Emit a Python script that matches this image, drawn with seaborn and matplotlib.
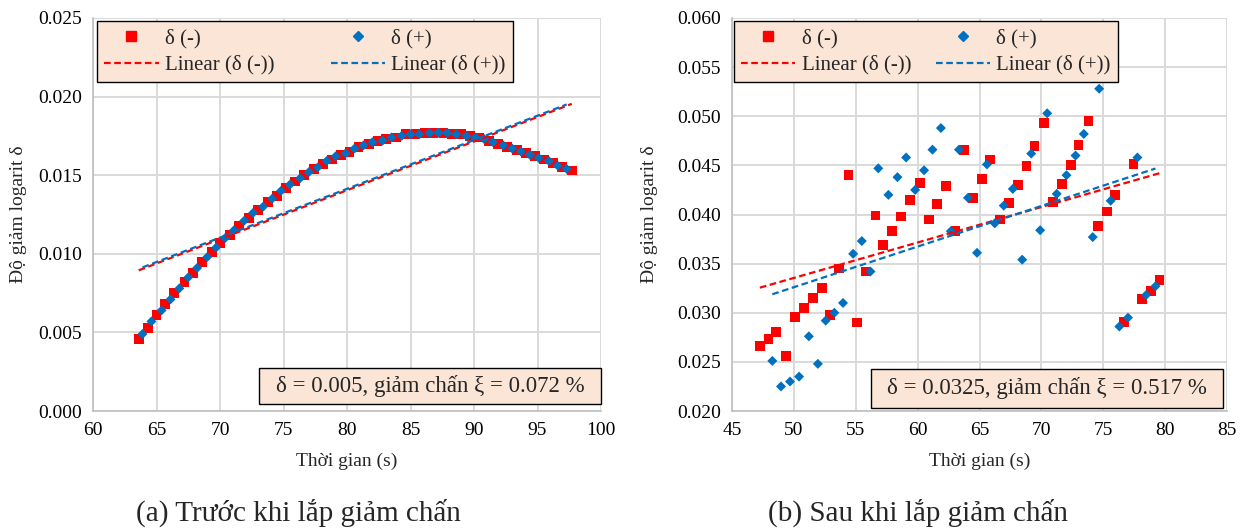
import numpy as np
import pandas as pd
import matplotlib
matplotlib.use("Agg")
import matplotlib.pyplot as plt
import seaborn as sns
from matplotlib.lines import Line2D
from matplotlib.patches import Rectangle

# ---- (a) before damper: values ----
a_minus_t = [63.6, 64.3, 65.0, 65.7, 66.4, 67.2, 67.9, 68.6, 69.4, 70.0, 70.8, 71.5,
             72.3, 73.0, 73.8, 74.5, 75.2, 75.9, 76.6, 77.4, 78.1, 78.8, 79.5, 80.2,
             80.9, 81.7, 82.4, 83.1, 83.9, 84.6, 85.4, 86.1, 86.8, 87.6, 88.3, 89.0,
             89.7, 90.4, 91.2, 91.9, 92.6, 93.4, 94.1, 94.8, 95.5, 96.2, 96.9, 97.7]
a_minus_d = [0.0046, 0.0053, 0.0061, 0.0068, 0.0075, 0.0082, 0.0088, 0.0095, 0.0101,
             0.0107, 0.0112, 0.0118, 0.0123, 0.0128, 0.0133, 0.0137, 0.0142, 0.0146,
             0.0150, 0.0154, 0.0157, 0.0160, 0.0163, 0.0165, 0.0168, 0.0170, 0.0172,
             0.0173, 0.0174, 0.0176, 0.0176, 0.0177, 0.0177, 0.0177, 0.0176, 0.0176,
             0.0175, 0.0174, 0.0172, 0.0170, 0.0168, 0.0166, 0.0164, 0.0162, 0.0160,
             0.0158, 0.0155, 0.0153]
a_plus_t = [63.9, 64.6, 65.4, 66.1, 66.8, 67.5, 68.2, 69.0, 69.7, 70.4, 71.1, 71.9,
            72.6, 73.4, 74.1, 74.8, 75.5, 76.3, 77.0, 77.7, 78.4, 79.1, 79.9, 80.6,
            81.3, 82.0, 82.8, 83.5, 84.3, 85.0, 85.7, 86.5, 87.2, 87.9, 88.6, 89.4,
            90.1, 90.8, 91.5, 92.3, 93.0, 93.7, 94.4, 95.1, 95.9, 96.6, 97.3]
a_plus_d = [0.0049, 0.0057, 0.0064, 0.0071, 0.0078, 0.0085, 0.0091, 0.0098, 0.0104,
            0.0110, 0.0115, 0.0121, 0.0126, 0.0130, 0.0135, 0.0140, 0.0144, 0.0148,
            0.0152, 0.0155, 0.0159, 0.0162, 0.0164, 0.0167, 0.0169, 0.0171, 0.0172,
            0.0174, 0.0175, 0.0176, 0.0176, 0.0177, 0.0177, 0.0177, 0.0176, 0.0175,
            0.0174, 0.0173, 0.0171, 0.0169, 0.0167, 0.0165, 0.0163, 0.0161, 0.0159,
            0.0156, 0.0154]

# ---- (b) after damper ----
b_minus_t = [47.25, 47.95, 48.58, 49.37, 50.10, 50.83, 51.53, 52.26, 52.95, 53.65,
             54.41, 55.08, 55.80, 56.60, 57.23, 57.96, 58.66, 59.39, 60.21, 60.90,
             61.57, 62.27, 63.06, 63.76, 64.49, 65.22, 65.85, 66.64, 67.37, 68.10,
             68.80, 69.45, 70.18, 70.92, 71.65, 72.38, 73.00, 73.81, 74.56, 75.29,
             75.96, 76.69, 77.45, 78.11, 78.84, 79.54]
b_minus_d = [0.0266, 0.0273, 0.0280, 0.0256, 0.0296, 0.0305, 0.0315, 0.0325, 0.0298,
             0.0345, 0.0440, 0.0290, 0.0342, 0.0399, 0.0369, 0.0383, 0.0398, 0.0415,
             0.0432, 0.0395, 0.0411, 0.0429, 0.0383, 0.0466, 0.0417, 0.0436, 0.0456,
             0.0395, 0.0412, 0.0430, 0.0449, 0.0470, 0.0493, 0.0413, 0.0431, 0.0450,
             0.0471, 0.0495, 0.0388, 0.0403, 0.0420, 0.0291, 0.0451, 0.0314, 0.0322,
             0.0333]
b_plus_t = [48.26, 48.96, 49.69, 50.42, 51.21, 51.94, 52.57, 53.27, 53.97, 54.79,
            55.49, 56.19, 56.82, 57.64, 58.37, 59.07, 59.80, 60.52, 61.20, 61.88,
            62.68, 63.34, 64.07, 64.80, 65.60, 66.23, 66.96, 67.69, 68.45, 69.18,
            69.90, 70.47, 71.24, 72.03, 72.76, 73.43, 74.15, 74.67, 75.60, 76.30,
            77.00, 77.76, 78.46, 79.22]
b_plus_d = [0.0251, 0.0225, 0.0230, 0.0235, 0.0276, 0.0248, 0.0292, 0.0300, 0.0310,
            0.0360, 0.0373, 0.0342, 0.0447, 0.0420, 0.0438, 0.0458, 0.0425, 0.0445,
            0.0466, 0.0488, 0.0383, 0.0466, 0.0417, 0.0361, 0.0451, 0.0391, 0.0409,
            0.0426, 0.0354, 0.0462, 0.0384, 0.0503, 0.0421, 0.0440, 0.0460, 0.0482,
            0.0377, 0.0528, 0.0414, 0.0286, 0.0295, 0.0458, 0.0318, 0.0327]

RED = "#FF0000"
BLUE = "#0070C0"
PEACH = "#FBE5D6"
GRID = "#D9D9D9"

sns.set_theme(style="whitegrid")
plt.rcParams["font.family"] = ["Liberation Serif", "DejaVu Serif"]


def draw_panel(ax, t_minus, d_minus, t_plus, d_plus, xlim, ylim, xstep, ystep, note, boxes):
    sns.scatterplot(x=t_minus, y=d_minus, ax=ax, marker="s", color=RED, s=50,
                    edgecolor="none", zorder=3)
    sns.scatterplot(x=t_plus, y=d_plus, ax=ax, marker="D", color=BLUE, s=26,
                    edgecolor="none", zorder=4)
    # linear trendlines (least squares, like Excel)
    dash = (0, (3, 1.6))
    sns.regplot(x=np.array(t_minus), y=np.array(d_minus), ax=ax, scatter=False, ci=None,
                truncate=True, line_kws=dict(color=RED, lw=1.6, ls=dash, zorder=5))
    sns.regplot(x=np.array(t_plus), y=np.array(d_plus), ax=ax, scatter=False, ci=None,
                truncate=True, line_kws=dict(color=BLUE, lw=1.6, ls=dash, zorder=5))

    ax.set_xlim(*xlim)
    ax.set_ylim(*ylim)
    ax.set_xticks(np.arange(xlim[0], xlim[1] + 0.1, xstep))
    ax.set_yticks(np.arange(ylim[0], ylim[1] + ystep / 10, ystep))
    ax.yaxis.set_major_formatter(matplotlib.ticker.FormatStrFormatter("%.3f"))
    ax.grid(True, color=GRID, lw=1.4)
    ax.set_axisbelow(True)
    for side in ["top", "right"]:
        ax.spines[side].set_visible(False)
    for side in ["left", "bottom"]:
        ax.spines[side].set_color("#BFBFBF")
        ax.spines[side].set_linewidth(1.2)
    ax.tick_params(axis="both", direction="out", length=5, width=1.2, color="#BFBFBF",
                   labelsize=14, pad=3, labelcolor="black")
    ax.set_xlabel("Thời gian (s)", fontsize=14)
    ax.set_ylabel("Độ giảm logarit δ", fontsize=14)

    handles = [
        Line2D([], [], ls="none", marker="s", color=RED, markersize=7),
        Line2D([], [], color=RED, lw=1.6, ls=dash),
        Line2D([], [], ls="none", marker="D", color=BLUE, markersize=5),
        Line2D([], [], color=BLUE, lw=1.6, ls=dash),
    ]
    labels = ["δ (-)", "Linear (δ (-))", "δ (+)", "Linear (δ (+))"]
    leg = ax.legend(handles, labels, ncol=2, loc="upper left", fontsize=15,
                    bbox_to_anchor=boxes["legend"], mode="expand", frameon=True,
                    fancybox=False, handlelength=2.6, handletextpad=0.3,
                    borderpad=0.35, labelspacing=0.35, columnspacing=0.8,
                    borderaxespad=0)
    leg.get_frame().set_facecolor(PEACH)
    leg.get_frame().set_edgecolor("black")
    leg.get_frame().set_linewidth(1.0)
    leg.get_frame().set_alpha(1)
    leg.set_zorder(10)

    x0, y0, w, h = boxes["note"]
    ax.add_patch(Rectangle((x0, y0), w, h, transform=ax.transAxes, facecolor=PEACH,
                           edgecolor="black", lw=1.0, zorder=10, clip_on=False))
    ax.text(x0 + w / 2, y0 + h / 2, note, transform=ax.transAxes, ha="center",
            va="center", fontsize=16.5, zorder=11)


fig = plt.figure(figsize=(12.44, 5.30), dpi=100)
ax1 = fig.add_axes([93 / 1244, 1 - 411 / 530, 508 / 1244, 393 / 530])
ax2 = fig.add_axes([732 / 1244, 1 - 411 / 530, 495 / 1244, 393 / 530])

draw_panel(ax1, a_minus_t, a_minus_d, a_plus_t, a_plus_d, (60, 100), (0.0, 0.025), 5, 0.005,
           "δ = 0.005, giảm chấn ξ = 0.072 %",
           {"legend": (0.008, 0.992, 0.819, 0.0), "note": (0.327, 0.018, 0.673, 0.092)})
draw_panel(ax2, b_minus_t, b_minus_d, b_plus_t, b_plus_d, (45, 85), (0.020, 0.060), 5, 0.005,
           "δ = 0.0325, giảm chấn ξ = 0.517 %",
           {"legend": (0.004, 0.992, 0.776, 0.0), "note": (0.281, 0.008, 0.711, 0.099)})

ax1.xaxis.set_label_coords(0.5, -0.105)
ax2.xaxis.set_label_coords(0.5, -0.105)
ax1.yaxis.set_label_coords(-0.13, 0.5)
ax2.yaxis.set_label_coords(-0.15, 0.5)

fig.text(298 / 1244, 1 - 513 / 530, "(a) Trước khi lắp giảm chấn", ha="center",
         va="center", fontsize=21)
fig.text(918 / 1244, 1 - 513 / 530, "(b) Sau khi lắp giảm chấn", ha="center",
         va="center", fontsize=21)

fig.savefig("out.png", dpi=100, facecolor="white")
